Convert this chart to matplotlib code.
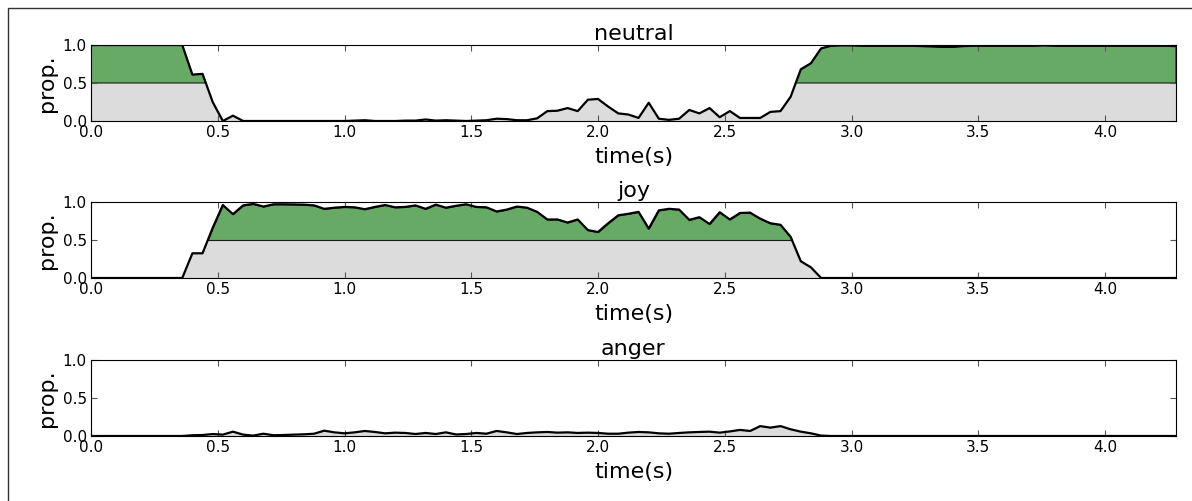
import matplotlib
matplotlib.use('Agg')
import matplotlib.pyplot as plt
from matplotlib.patches import Rectangle
import numpy as np

frame_step = 0.04  # seconds between frames

neutral = [1.0] * 10 + [
    0.61, 0.62, 0.25, 0.0, 0.07, 0.0, 0.0, 0.0, 0.0, 0.0,
    0.0, 0.0, 0.0, 0.0, 0.0, 0.0, 0.005, 0.01, 0.0, 0.0,
    0.0, 0.005, 0.005, 0.02, 0.005, 0.01, 0.005, 0.0, 0.005, 0.01,
    0.03, 0.025, 0.01, 0.01, 0.035, 0.13, 0.135, 0.17, 0.13, 0.28,
    0.29, 0.19, 0.10, 0.085, 0.04, 0.24, 0.03, 0.015, 0.03, 0.145,
    0.10, 0.17, 0.05, 0.13, 0.04, 0.04, 0.04, 0.12, 0.13, 0.32,
    0.68, 0.76, 0.955, 0.99, 0.995,
    0.995, 0.99, 0.99, 0.99, 0.99, 0.99, 0.99, 0.985, 0.98, 0.975,
    0.975, 0.985, 0.99, 0.99, 0.99, 0.99, 0.99, 0.99, 0.99, 0.995,
    0.99, 0.99, 0.99, 0.99, 0.99, 0.99, 0.99, 0.99, 0.99, 0.99,
    0.99, 0.99, 0.985,
]

joy = [0.0] * 10 + [
    0.325, 0.325, 0.66, 0.96, 0.84, 0.955, 0.975, 0.94, 0.97, 0.97,
    0.968, 0.965, 0.955, 0.91, 0.925, 0.935, 0.93, 0.905, 0.935, 0.96,
    0.93, 0.935, 0.955, 0.91, 0.965, 0.925, 0.95, 0.97, 0.935, 0.93,
    0.875, 0.90, 0.94, 0.925, 0.87, 0.77, 0.77, 0.73, 0.77, 0.63,
    0.605, 0.72, 0.825, 0.845, 0.87, 0.65, 0.89, 0.91, 0.90, 0.765,
    0.80, 0.71, 0.865, 0.77, 0.855, 0.86, 0.78, 0.72, 0.70, 0.54,
    0.22, 0.14, 0.0,
] + [0.0] * 35

anger = [0.0] * 10 + [
    0.01, 0.013, 0.026, 0.018, 0.057, 0.018, 0.005, 0.03, 0.01, 0.013,
    0.018, 0.022, 0.03, 0.07, 0.048, 0.035, 0.048, 0.066, 0.053, 0.035,
    0.044, 0.04, 0.026, 0.04, 0.026, 0.048, 0.02, 0.026, 0.04, 0.03,
    0.066, 0.048, 0.026, 0.04, 0.048, 0.053, 0.044, 0.048, 0.04, 0.044,
    0.04, 0.03, 0.03, 0.044, 0.053, 0.048, 0.035, 0.03, 0.04, 0.048,
    0.053, 0.057, 0.044, 0.06, 0.08, 0.066, 0.13, 0.11, 0.13, 0.088,
    0.057, 0.035, 0.005,
] + [0.0] * 35

emotions = ['neutral', 'joy', 'anger']
series = [neutral, joy, anger]
x_ticks = [0.0, 0.5, 1.0, 1.5, 2.0, 2.5, 3.0, 3.5, 4.0]
y_ticks = [0.0, 0.5, 1.0]

fig = plt.figure(figsize=(11.92, 5.01), dpi=100)
fig.patch.set_facecolor('white')

left = 91 / 1192
width = (1176 - 91) / 1192
height = 76 / 501
bottoms = [1 - 121 / 501, 1 - 278 / 501, 1 - 436 / 501]

for name, values, bottom in zip(emotions, series, bottoms):
    y = np.array(values)
    t = np.arange(len(y)) * frame_step
    ax = fig.add_axes([left, bottom, width, height])

    # grey under the whole curve, green on top of it above the 0.5 threshold
    ax.fill_between(t, 0, y, color='#dcdcdc', linewidth=0)
    ax.fill_between(t, 0.5, y, where=y > 0.5, interpolate=True,
                    facecolor='#66aa66', edgecolor='#1a1a1a', linewidth=0.8)
    ax.plot(t, y, color='black', linewidth=1.6)

    ax.set_xlim(0, t[-1])
    ax.set_ylim(0, 1)
    ax.set_xticks(x_ticks)
    ax.set_yticks(y_ticks)
    ax.tick_params(direction='in', top=True, right=True, length=4,
                   labelsize=11, pad=3, color='#555555')
    ax.set_title(name, fontsize=16, pad=3.5)
    ax.set_xlabel('time(s)', fontsize=16, labelpad=5)
    ax.set_ylabel('prop.', fontsize=16, labelpad=4)

# outer frame line (top and left edges visible)
frame = Rectangle((8 / 1192, -0.2), 1.3, 1.2 - 8 / 501, transform=fig.transFigure,
                  fill=False, edgecolor='#333333', linewidth=1.0, clip_on=False)
fig.patches.append(frame)

fig.savefig('out.png', dpi=100)
